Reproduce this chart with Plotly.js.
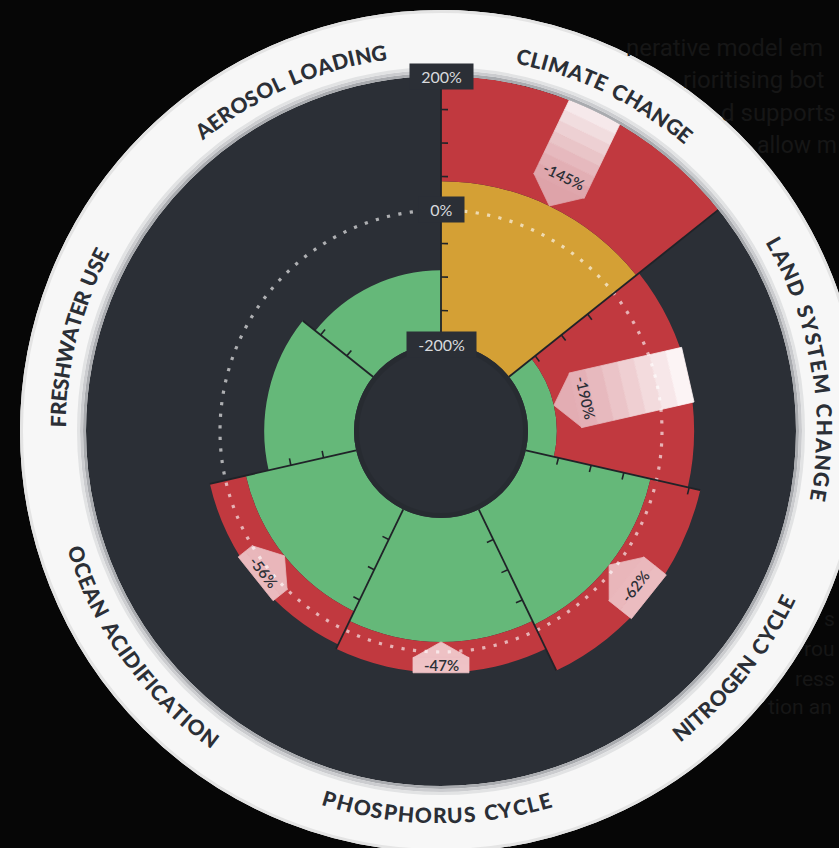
<!DOCTYPE html>
<html><head><meta charset="utf-8">
<script src="https://cdn.plot.ly/plotly-3.0.1.min.js"></script>
<style>html,body{margin:0;padding:0;background:#060606;overflow:hidden}#chart{width:839px;height:848px}</style>
</head><body><div id="chart"></div>
<script>
// ---------------- data ----------------
const categories = ['Climate Change','Land System Change','Nitrogen Cycle','Phosphorus Cycle','Ocean Acidification','Freshwater Use','Aerosol Loading'];
const safeValues = [null, -157, -9, -15, -31, -66, -90];        // green zone outer edge (%)
const riskValues = [43, null, null, null, null, null, null];     // yellow zone outer edge (%)
const overshootValues = [200, 48, 67, 31, 24, null, null];      // red zone outer edge (%)
const reductionLabels = ['-145%','-190%','-62%','-47%','-56%', null, null];
const radialTicks = [-200, 0, 200];
const radialTickText = ['-200%','0%','200%'];
const rulerTicks = [-150, -100, -50, 50, 100, 150];
const bgTextLines = ['nerative model em','rioritising bot','d supports','allow m','s','rou','ress','tion an'];

// ---------------- layout / style constants ----------------
const W = 839, H = 848, CX = 441, CY = 431, R = 355, HOLE = 87;
const RMIN = -200, RMAX = 200;
const N = categories.length, STEP = 360 / N;
const COL = {green:'#65b879', yellow:'#d4a035', red:'#c1393f', dark:'#2b2f36', line:'#202328'};
const labelCenterDeg = [25.9, 80.2, 129.0, 180.6, 234.2, 284.4, 336.2];
const labelSpanDeg = [29.0, 40.6, 27.2, 34.4, 36.8, 27.6, 31.2];
const LABEL_R = 384;
const tagInnerColor = ['#dea3a9','#e3adb3','#e9b6ba','#eec1c4','#e9b6ba'];
const tagOuterColor = ['#f8f0f1','#fefbfb','#ecbfc3','#efc4c7','#ebbcc0'];
const bgTextX = [624, 681, 719, 755, 822, 802, 793, 766];
const bgTextY = [48, 80, 113, 145, 619, 649, 679, 707];
const bgTextSize = [24, 24, 24, 23, 21, 21, 21, 21];

const centers = categories.map((_, i) => STEP * (i + 0.5));
const rpx = v => HOLE + (v - RMIN) / (RMAX - RMIN) * (R - HOLE);
const pxv = p => RMIN + (p - HOLE) / (R - HOLE) * (RMAX - RMIN);
const degOf = (px, r) => px / r * 180 / Math.PI;
function toPaper(theta, r) {
  const t = theta * Math.PI / 180;
  return {x: (CX + r * Math.sin(t)) / W, y: (H - CY + r * Math.cos(t)) / H};
}
const outerOf = i => (overshootValues[i] != null ? overshootValues[i] : (riskValues[i] != null ? riskValues[i] : safeValues[i]));
const innerOfRed = i => (riskValues[i] != null ? riskValues[i] : safeValues[i]);

// ---------------- bars ----------------
function barTrace(vals, baseFn, color) {
  const th = [], rr = [], bb = [];
  vals.forEach((v, i) => {
    if (v == null) return;
    const b = baseFn(i);
    th.push(centers[i]); bb.push(b); rr.push(v - b);
  });
  return {type:'barpolar', theta:th, r:rr, base:bb, width:STEP,
          marker:{color:color, line:{width:0}}, hoverinfo:'skip'};
}
const traces = [
  barTrace(safeValues, () => RMIN, COL.green),
  barTrace(riskValues, () => RMIN, COL.yellow),
  barTrace(overshootValues, innerOfRed, COL.red)
];

// ---------------- reduction tags (pentagon arrows) ----------------
function hexToRgb(h){return [1,3,5].map(k=>parseInt(h.substr(k,2),16));}
function mix(a, b, t){const A=hexToRgb(a),B=hexToRgb(b);return 'rgb('+A.map((x,k)=>Math.round(x+(B[k]-x)*t)).join(',')+')';}
const TAG_HALF = 28;
function polyTrace(center, pts, color) {
  const r = [], th = [];
  pts.concat([pts[0]]).forEach(([d, h]) => {
    r.push(pxv(Math.hypot(d, h)));
    th.push(center + Math.atan2(h, d) * 180 / Math.PI);
  });
  return {type:'scatterpolar', mode:'lines', r:r, theta:th, fill:'toself', fillcolor:color,
          line:{color:color, width:0.8}, hoverinfo:'skip'};
}
const annotations = [];
const tagTraces = [];
reductionLabels.forEach((lab, i) => {
  if (lab == null) return;
  const c = centers[i];
  const inPx = rpx(innerOfRed(i)), outPx = rpx(overshootValues[i]);
  const len = outPx - inPx;
  const tip = Math.min(22, 0.5 * len);
  tagTraces.push(polyTrace(c, [[inPx, 0], [inPx + tip + 0.5, -TAG_HALF], [inPx + tip + 0.5, TAG_HALF]], tagInnerColor[i]));
  const nseg = len - tip > 40 ? 7 : 2;
  for (let j = 0; j < nseg; j++) {
    const a = inPx + tip + (len - tip) * j / nseg, b = inPx + tip + (len - tip) * (j + 1) / nseg;
    tagTraces.push(polyTrace(c, [[a, -TAG_HALF], [b, -TAG_HALF], [b, TAG_HALF], [a, TAG_HALF]],
      mix(tagInnerColor[i], tagOuterColor[i], Math.pow((j + 0.5) / nseg, 1.2))));
  }
  const tr = Math.min(inPx + 33, (inPx + outPx) / 2 + 8);
  const p = toPaper(c, tr);
  let ang = c;
  if (ang > 90 && ang < 270) ang -= 180;
  if (ang > 180) ang -= 360;
  annotations.push({x:p.x, y:p.y, xref:'paper', yref:'paper', text:lab, showarrow:false,
    textangle:ang, xanchor:'center', yanchor:'middle',
    font:{family:'Lato, "Open Sans", sans-serif', size:15, color:'#2b2f36', weight:600}});
});
traces.push(...tagTraces);

// ---------------- 0% dotted ring ----------------
const circTheta = Array.from({length: 361}, (_, i) => i);
traces.push({type:'scatterpolar', mode:'lines', theta:circTheta, r:circTheta.map(() => 0),
  line:{color:'rgba(255,255,255,0.62)', width:3.2, dash:'3.2px,8.4px'}, hoverinfo:'skip'});

// ---------------- rulers on sector edges ----------------
const rlT = [], rlR = [], tkT = [], tkR = [];
for (let k = 0; k < N; k++) {
  const b = k * STEP;
  const prev = (k + N - 1) % N;
  const end = Math.max(outerOf(prev), outerOf(k));
  rlT.push(b, b, null); rlR.push(RMIN, end, null);
  rulerTicks.forEach(v => {
    if (v >= outerOf(k)) return;
    const d = degOf(7, rpx(v));
    tkT.push(b, b + d, null); tkR.push(v, v, null);
  });
}
traces.push({type:'scatterpolar', mode:'lines', theta:rlT, r:rlR, line:{color:COL.line, width:1.8}, hoverinfo:'skip'});
traces.push({type:'scatterpolar', mode:'lines', theta:tkT, r:tkR, line:{color:COL.line, width:1.6}, hoverinfo:'skip'});

// ---------------- radial labels ----------------
radialTicks.forEach((v, i) => {
  const p = toPaper(0, rpx(v));
  annotations.push({x:p.x, y:p.y, xref:'paper', yref:'paper', text:'&nbsp;&nbsp;' + radialTickText[i] + '&nbsp;&nbsp;', showarrow:false,
    xanchor:'center', yanchor:'middle', bgcolor:COL.dark, borderpad:3,
    font:{family:'Lato, "Open Sans", sans-serif', size:16, color:'#d8dadd'}});
});

// ---------------- faint background page text ----------------
bgTextLines.forEach((t, i) => {
  annotations.push({x:bgTextX[i] / W, y:1 - bgTextY[i] / H, xref:'paper', yref:'paper', text:t, showarrow:false,
    xanchor:'left', yanchor:'middle', font:{family:'Roboto, sans-serif', size:bgTextSize[i], color:'#161616'}});
});

// ---------------- curved category labels ----------------
const LFONT_SIZE = 21, LFONT_WEIGHT = 900;
const ctx = document.createElement('canvas').getContext('2d');
ctx.font = LFONT_WEIGHT + ' ' + LFONT_SIZE + 'px Lato';
categories.forEach((name, i) => {
  const chars = name.toUpperCase().split('');
  const ws = chars.map(c => c === ' ' ? LFONT_SIZE * 0.32 : ctx.measureText(c).width);
  const total = ws.reduce((a, b) => a + b, 0);
  const spanPx = labelSpanDeg[i] * Math.PI / 180 * LABEL_R;
  const ls = (spanPx - total) / (chars.length - 1);
  const c0 = labelCenterDeg[i];
  const bottom = c0 > 105 && c0 < 255;
  let acc = 0;
  chars.forEach((ch, j) => {
    const s = acc + ws[j] / 2 - spanPx / 2;
    acc += ws[j] + ls;
    if (ch === ' ') return;
    const sd = degOf(s, LABEL_R);
    const th = bottom ? c0 - sd : c0 + sd;
    let ang = bottom ? th - 180 : th;
    while (ang > 180) ang -= 360;
    while (ang < -180) ang += 360;
    const p = toPaper(th, LABEL_R);
    annotations.push({x:p.x, y:p.y, xref:'paper', yref:'paper', text:ch, showarrow:false,
      textangle:ang, xanchor:'center', yanchor:'middle',
      font:{family:'Lato, "DejaVu Sans", sans-serif', size:LFONT_SIZE, color:'#2b2f36', weight:LFONT_WEIGHT}});
  });
});

// ---------------- shapes ----------------
function circ(r, opts) {
  return Object.assign({type:'circle', xref:'paper', yref:'paper', xsizemode:'pixel', ysizemode:'pixel',
    xanchor:CX / W, yanchor:(H - CY) / H, x0:-r, x1:r, y0:-r, y1:r}, opts);
}
const shapes = [
  circ(356, {layer:'below', fillcolor:COL.dark, line:{width:0}}),
  circ(84.5, {layer:'above', line:{color:'rgba(0,0,0,0.08)', width:5}}),
  circ(388, {layer:'above', line:{color:'#f7f7f7', width:66}}),
  circ(356.5, {layer:'above', line:{color:'#a9abaf', width:3}}),
  circ(359.5, {layer:'above', line:{color:'#cbcccf', width:3}}),
  circ(362.5, {layer:'above', line:{color:'#e2e3e4', width:3}}),
  circ(419.5, {layer:'above', line:{color:'#e4e4e4', width:3}})
];

const layout = {
  width:W, height:H, margin:{l:0, r:0, t:0, b:0},
  paper_bgcolor:'#060606', plot_bgcolor:'rgba(0,0,0,0)', showlegend:false,
  polar:{
    domain:{x:[(CX - R) / W, (CX + R) / W], y:[(H - CY - R) / H, (H - CY + R) / H]},
    hole:HOLE / R, bgcolor:'rgba(0,0,0,0)', barmode:'overlay',
    radialaxis:{range:[RMIN, RMAX], visible:false, showgrid:false},
    angularaxis:{rotation:90, direction:'clockwise', visible:false, showgrid:false, thetaunit:'degrees'}
  },
  shapes:shapes, annotations:annotations
};
Plotly.newPlot('chart', traces, layout, {displayModeBar:false, staticPlot:true});
</script></body></html>
